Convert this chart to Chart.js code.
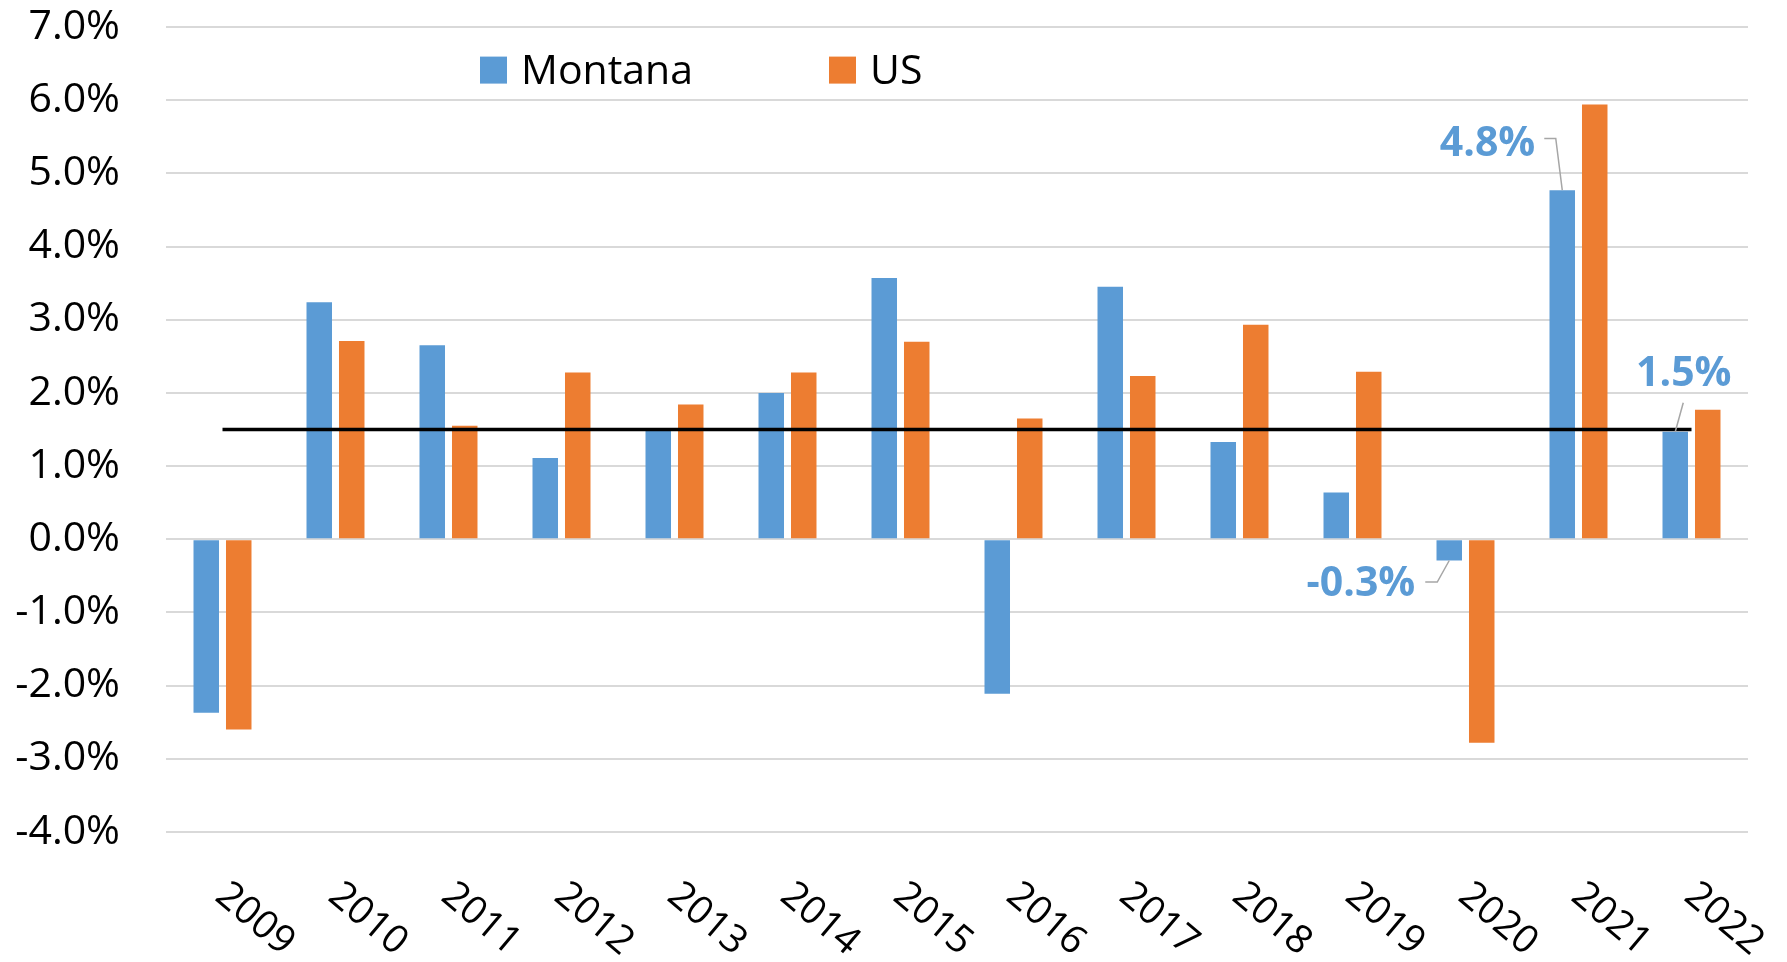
<!DOCTYPE html>
<html>
<head>
<meta charset="utf-8">
<script src="https://cdn.jsdelivr.net/npm/chart.js@4.4.1/dist/chart.umd.min.js"></script>
<style>
  html, body { margin: 0; padding: 0; background: #fff; }
</style>
</head>
<body>
<canvas id="growthChart" width="1787" height="962"></canvas>
<script>
// values (annual growth, %)
var years = ['2009', '2010', '2011', '2012', '2013', '2014', '2015', '2016', '2017', '2018', '2019', '2020', '2021', '2022'];
var montana = [-2.37, 3.24, 2.65, 1.11, 1.50, 2.00, 3.57, -2.11, 3.45, 1.33, 0.64, -0.29, 4.77, 1.47];
var us = [-2.60, 2.71, 1.55, 2.28, 1.84, 2.28, 2.70, 1.65, 2.23, 2.93, 2.29, -2.78, 5.94, 1.77];
var refLine = [1.5, 1.5, 1.5, 1.5, 1.5, 1.5, 1.5, 1.5, 1.5, 1.5, 1.5, 1.5, 1.5, 1.5];
var yMin = -4, yMax = 7;

var BLUE = '#5B9BD5';
var ORANGE = '#ED7D31';
var FONT = '"Open Sans", "Noto Sans", sans-serif';

// labelled Montana bars: leader line offsets and text offsets from the bar end
var callouts = [
    { index: 12, leader: [[0, 0], [-6.5, -51.7], [-18, -51.7]], text: [-27, -34], align: 'right' },
    { index: 13, leader: [[0, 0], [8, -29]], text: [8.5, -45.7], align: 'center' },
    { index: 11, leader: [[0, 0], [-12, 21.6], [-24, 21.6]], text: [-34, 36], align: 'right' }
];

var overlay = {
    id: 'overlay',
    afterDraw: function (chart) {
        var ctx = chart.ctx;
        var area = chart.chartArea;
        var xs = chart.scales.x;

        // x labels, rotated clockwise
        ctx.save();
        ctx.fillStyle = '#000';
        ctx.font = '39px ' + FONT;
        ctx.textAlign = 'left';
        ctx.textBaseline = 'alphabetic';
        for (var i = 0; i < years.length; i++) {
            var px = xs.getPixelForValue(i);
            ctx.save();
            ctx.translate(px - 9, area.bottom + 67);
            ctx.rotate(40 * Math.PI / 180);
            ctx.fillText(years[i], 0, 0);
            ctx.restore();
        }
        ctx.restore();

        // legend inside the plot
        var legendItems = [
            { label: 'Montana', color: BLUE, x: area.left + 314 },
            { label: 'US', color: ORANGE, x: area.left + 663 }
        ];
        ctx.save();
        ctx.font = '41px ' + FONT;
        ctx.textAlign = 'left';
        ctx.textBaseline = 'alphabetic';
        legendItems.forEach(function (it) {
            var top = area.top + 29.6;
            ctx.fillStyle = it.color;
            ctx.fillRect(it.x, top, 27, 27);
            ctx.fillStyle = '#000';
            ctx.fillText(it.label, it.x + 41, top + 27);
        });
        ctx.restore();

        // data callouts
        var meta = chart.getDatasetMeta(0);
        ctx.save();
        callouts.forEach(function (c) {
            var bar = meta.data[c.index];
            var bx = bar.x, by = bar.y;
            ctx.strokeStyle = '#A6A6A6';
            ctx.lineWidth = 1.5;
            ctx.beginPath();
            c.leader.forEach(function (p, k) {
                if (k === 0) ctx.moveTo(bx + p[0], by + p[1]);
                else ctx.lineTo(bx + p[0], by + p[1]);
            });
            ctx.stroke();
            ctx.fillStyle = BLUE;
            ctx.font = 'bold 41px ' + FONT;
            ctx.textAlign = c.align;
            ctx.textBaseline = 'alphabetic';
            ctx.fillText(montana[c.index].toFixed(1) + '%', bx + c.text[0], by + c.text[1]);
        });
        ctx.restore();
    }
};

var growthChart = new Chart(document.getElementById('growthChart'), {
    type: 'bar',
    data: {
        labels: years,
        datasets: [{
            label: 'Montana',
            data: montana,
            backgroundColor: BLUE,
            categoryPercentage: 0.575,
            barPercentage: 0.785,
            order: 1
        }, {
            label: 'US',
            data: us,
            backgroundColor: ORANGE,
            categoryPercentage: 0.575,
            barPercentage: 0.785,
            order: 1
        }, {
            type: 'line',
            label: 'reference',
            data: refLine,
            borderColor: '#000',
            borderWidth: 3.5,
            pointRadius: 0,
            fill: false,
            order: 0
        }]
    },
    options: {
        responsive: false,
        animation: false,
        layout: {
            padding: { top: 27, right: 39, bottom: 0, left: 0 }
        },
        plugins: {
            legend: { display: false },
            tooltip: { enabled: false }
        },
        scales: {
            x: {
                grid: { display: false },
                border: { display: false },
                ticks: { display: false },
                afterFit: function (scale) { scale.height = 130; }
            },
            y: {
                min: yMin,
                max: yMax,
                border: { display: false },
                grid: { color: '#D9D9D9', lineWidth: 2, drawTicks: false },
                ticks: {
                    stepSize: 1,
                    padding: 46,
                    color: '#000',
                    font: { family: FONT, size: 41 },
                    callback: function (v) { return v.toFixed(1) + '%'; }
                },
                afterFit: function (scale) {
                    scale.width = 166;
                    scale.paddingTop = 0;
                    scale.paddingBottom = 0;
                }
            }
        }
    },
    plugins: [overlay]
});
</script>
</body>
</html>
